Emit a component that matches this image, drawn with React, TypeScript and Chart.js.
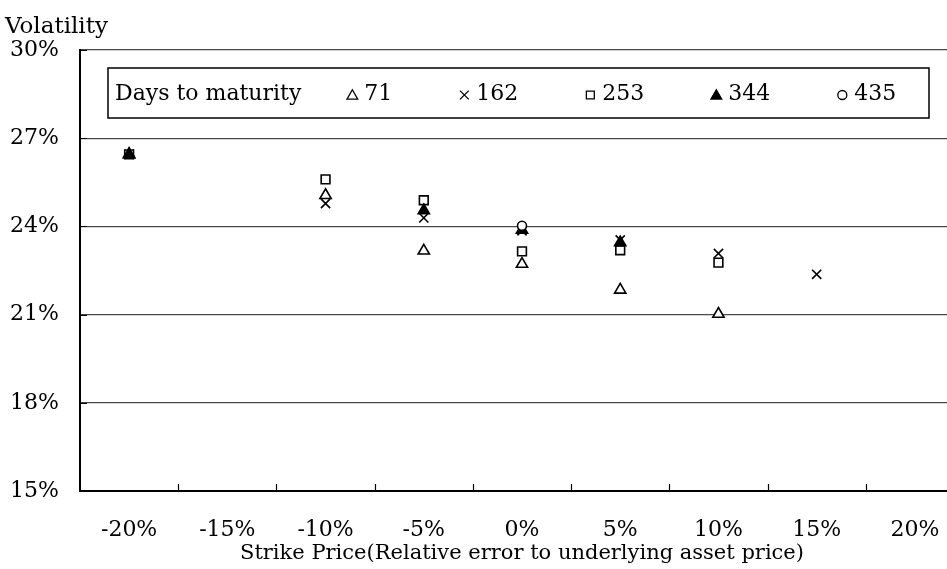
import { useEffect, useRef } from 'react';
import { Chart, registerables } from 'chart.js';

Chart.register(...registerables);

// ---- data ----
const strikes = [-20, -10, -5, 0, 5, 10, 15];
const maturities = ['71', '162', '253', '344', '435'];
const vol71 = [26.45, 25.06, 23.17, 22.72, 21.84, 21.02, null];
const vol162 = [26.45, 24.78, 24.29, 23.85, 23.54, 23.08, 22.37];
const vol253 = [26.45, 25.6, 24.89, 23.15, 23.19, 22.77, null];
const vol344 = [26.45, null, 24.54, 23.88, 23.45, null, null];
const vol435 = [null, null, null, 24.02, null, null, null];
const xTickLabels = [-20, -15, -10, -5, 0, 5, 10, 15, 20];
const xTickMarks = [-17.5, -12.5, -7.5, -2.5, 2.5, 7.5, 12.5, 17.5];
const yTickLabels = [15, 18, 21, 24, 27, 30];
const xTitle = 'Strike Price(Relative error to underlying asset price)';
const yTitle = 'Volatility';
const legendTitle = 'Days to maturity';

const FONT = '"DejaVu Serif", serif';

type Style = 'triangle' | 'crossRot' | 'rect' | 'circle';

function toPoints(values: (number | null)[]) {
  const pts: { x: number; y: number }[] = [];
  values.forEach((v, i) => {
    if (v !== null) pts.push({ x: strikes[i], y: v });
  });
  return pts;
}

function drawMarker(
  ctx: CanvasRenderingContext2D,
  style: Style,
  x: number,
  y: number,
  r: number,
  fill: string,
  lw: number
) {
  ctx.save();
  ctx.beginPath();
  if (style === 'triangle') {
    ctx.moveTo(x, y - r);
    ctx.lineTo(x + r * 0.866, y + r / 2);
    ctx.lineTo(x - r * 0.866, y + r / 2);
    ctx.closePath();
  } else if (style === 'rect') {
    const s = r * Math.SQRT1_2;
    ctx.rect(x - s, y - s, 2 * s, 2 * s);
  } else if (style === 'circle') {
    ctx.arc(x, y, r, 0, Math.PI * 2);
  } else {
    const d = r * Math.SQRT1_2;
    ctx.moveTo(x - d, y - d);
    ctx.lineTo(x + d, y + d);
    ctx.moveTo(x + d, y - d);
    ctx.lineTo(x - d, y + d);
  }
  if (style !== 'crossRot') {
    ctx.fillStyle = fill;
    ctx.fill();
  }
  ctx.lineWidth = lw;
  ctx.strokeStyle = '#000';
  ctx.stroke();
  ctx.restore();
}

const decorPlugin = {
  id: 'decor',
  afterDraw(chart: any) {
    const ctx: CanvasRenderingContext2D = chart.ctx;
    const area = chart.chartArea;
    const xs = chart.scales.x;
    const ys = chart.scales.y;
    ctx.save();
    // inner tick marks
    ctx.strokeStyle = '#000';
    ctx.lineWidth = 1.2;
    ctx.beginPath();
    xTickMarks.forEach((v) => {
      const px = Math.round(xs.getPixelForValue(v)) + 0.5;
      ctx.moveTo(px, area.bottom);
      ctx.lineTo(px, area.bottom - 7);
    });
    yTickLabels.forEach((v) => {
      const py = Math.round(ys.getPixelForValue(v)) + 0.5;
      ctx.moveTo(area.left, py);
      ctx.lineTo(area.left + 7, py);
    });
    ctx.stroke();

    // y-axis title at top-left
    ctx.fillStyle = '#000';
    ctx.font = `23px ${FONT}`;
    ctx.textAlign = 'left';
    ctx.textBaseline = 'alphabetic';
    ctx.fillText(yTitle, 5, 33);

    // legend box inside the plot
    const bx = area.left + 28;
    const by = area.top + 18;
    const bw = 821;
    const bh = 50;
    ctx.fillStyle = '#fff';
    ctx.fillRect(bx, by, bw, bh);
    ctx.lineWidth = 1.5;
    ctx.strokeStyle = '#000';
    ctx.strokeRect(bx, by, bw, bh);
    ctx.font = `22px ${FONT}`;
    ctx.fillStyle = '#000';
    ctx.textBaseline = 'middle';
    const cy = by + bh / 2 + 1;
    let x = bx + 7;
    ctx.fillText(legendTitle, x, cy);
    x += ctx.measureText(legendTitle).width + 51;
    chart.data.datasets.forEach((ds: any) => {
      const style = ds.pointStyle as Style;
      const r = style === 'circle' ? 4.5 : style === 'rect' ? 5.6 : 6.2;
      const my = style === 'triangle' ? cy + 2 : cy + 1;
      drawMarker(ctx, style, x, my, r, ds.pointBackgroundColor, 1.3);
      ctx.fillStyle = '#000';
      ctx.fillText(ds.label, x + 12, cy);
      x += 12 + ctx.measureText(ds.label).width + 72;
    });
    ctx.restore();
  },
};

export default function App() {
  const ref = useRef<HTMLCanvasElement | null>(null);

  useEffect(() => {
    if (!ref.current) return;
    const series = [vol71, vol162, vol253, vol344, vol435];
    const styles: Style[] = ['triangle', 'crossRot', 'rect', 'triangle', 'circle'];
    const fills = ['#fff', '#fff', '#fff', '#000', '#fff'];
    const radii = [6.5, 6.5, 6.2, 6.5, 4.5];
    const chart = new Chart(ref.current, {
      type: 'scatter',
      data: {
        datasets: series.map((s, i) => ({
          label: maturities[i],
          data: toPoints(s),
          order: series.length - 1 - i,
          pointStyle: styles[i],
          pointRadius: radii[i],
          pointHoverRadius: radii[i],
          pointBackgroundColor: fills[i],
          pointBorderColor: '#000',
          pointBorderWidth: 1.6,
          backgroundColor: fills[i],
          borderColor: '#000',
          showLine: false,
        })),
      },
      options: {
        animation: false,
        responsive: false,
        events: [],
        layout: { padding: { left: 0, right: 16, top: 50, bottom: 0 } },
        plugins: {
          legend: { display: false },
          tooltip: { enabled: false },
          title: { display: false },
        },
        scales: {
          x: {
            type: 'linear',
            min: -22.5,
            max: 22.5,
            afterBuildTicks: (s: any) => {
              s.ticks = xTickLabels.map((v) => ({ value: v }));
            },
            afterFit: (s: any) => {
              s.height = 78;
            },
            grid: { display: false, drawTicks: false },
            border: { display: true, color: '#000', width: 2 },
            ticks: {
              color: '#000',
              font: { family: FONT, size: 22 },
              padding: 26,
              maxRotation: 0,
              autoSkip: false,
              callback: (v: any) => `${v}%`,
            },
            title: {
              display: true,
              text: xTitle,
              color: '#000',
              font: { family: FONT, size: 21 },
              padding: { top: 0, bottom: 3 },
            },
          },
          y: {
            type: 'linear',
            min: 15,
            max: 30,
            afterBuildTicks: (s: any) => {
              s.ticks = yTickLabels.map((v) => ({ value: v }));
            },
            afterFit: (s: any) => {
              s.width = 80;
            },
            grid: { color: '#4a4a4a', lineWidth: 1.2, drawTicks: false },
            border: { display: true, color: '#000', width: 2 },
            ticks: {
              color: '#000',
              font: { family: FONT, size: 22 },
              padding: 21,
              callback: (v: any) => `${v}%`,
            },
          },
        },
      },
      plugins: [decorPlugin],
    });
    return () => chart.destroy();
  }, []);

  return (
    <div
      style={{
        position: 'absolute',
        left: 0,
        top: 0,
        width: 947,
        height: 569,
        overflow: 'hidden',
        background: '#fff',
      }}
    >
      <canvas ref={ref} width={980} height={569} style={{ display: 'block' }} />
    </div>
  );
}
